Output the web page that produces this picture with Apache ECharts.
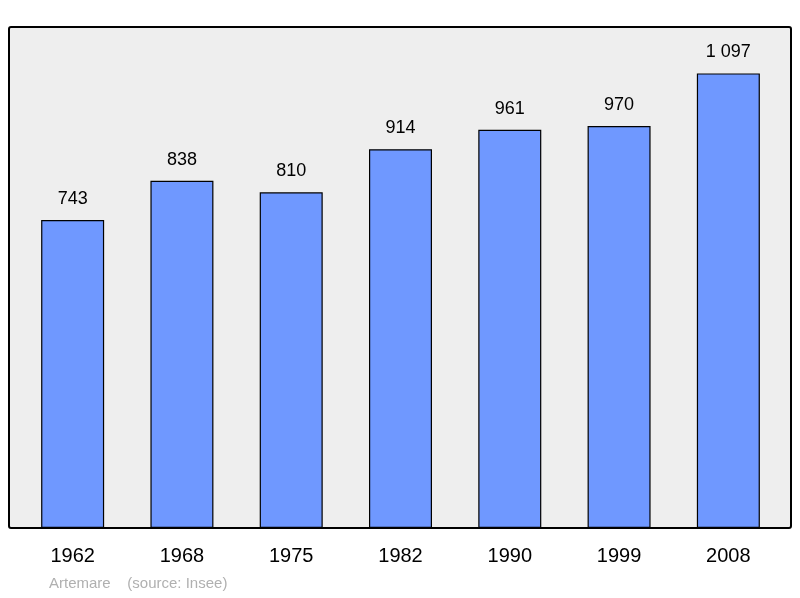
<!DOCTYPE html>
<html><head><meta charset="utf-8">
<script src="https://cdn.jsdelivr.net/npm/echarts@6/dist/echarts.min.js"></script>
<style>html,body{margin:0;padding:0;background:#fff}#c{width:800px;height:598px}</style>
</head><body><div id="c"></div>
<script>
const categories = ['1962','1968','1975','1982','1990','1999','2008'];
const population = [743, 838, 810, 914, 961, 970, 1097];
const chart = echarts.init(document.getElementById('c'));
chart.setOption({
  animation: false,
  textStyle: {fontFamily: 'Liberation Sans'},
  graphic: [
    {type:'rect', z:-10, shape:{x:9,y:27,width:782,height:501,r:2}, style:{fill:'#eeeeee',stroke:'#000',lineWidth:2}},
    {type:'text', left:49, top:576, style:{text:'Artemare    (source: Insee)', fill:'#b0b0b0', fontSize:15, fontFamily:'Liberation Sans'}}
  ],
  grid: {left:18, right:17, top:27, bottom:70},
  xAxis: {type:'category', data:categories, axisLine:{show:false}, axisTick:{show:false},
    axisLabel:{fontSize:20, color:'#000', margin:18}},
  yAxis: {type:'value', min:0, max:1209, show:false, splitLine:{show:false}},
  series: [{type:'bar', data:population, barWidth:63,
    itemStyle:{color:'#6f98ff', borderColor:'#000', borderWidth:1.2},
    label:{show:true, position:'top', distance:12, fontSize:18, color:'#000',
      formatter: p => p.value >= 1000 ? String(p.value).replace(/\B(?=(\d{3})+(?!\d))/g,' ') : p.value}}]
});
</script></body></html>
